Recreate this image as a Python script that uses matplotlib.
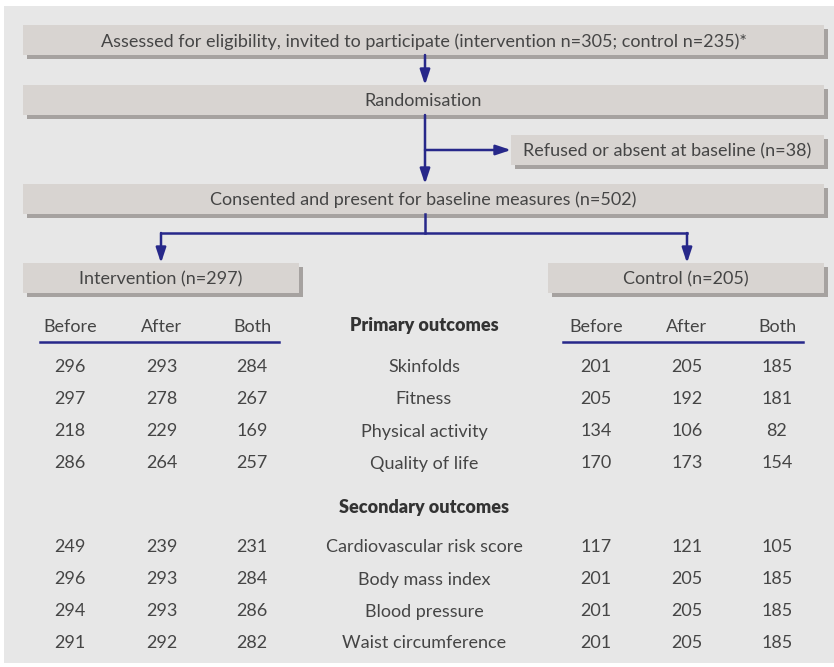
import matplotlib.pyplot as plt
from matplotlib.patches import Rectangle

plt.rcParams['font.family'] = ['Lato', 'DejaVu Sans']

# flow boxes
flow_text = [
    'Assessed for eligibility, invited to participate (intervention n=305; control n=235)*',
    'Randomisation',
    'Refused or absent at baseline (n=38)',
    'Consented and present for baseline measures (n=502)',
    'Intervention (n=297)',
    'Control (n=205)',
]
col_heads = ['Before', 'After', 'Both']

# outcome table
primary = ['Skinfolds', 'Fitness', 'Physical activity', 'Quality of life']
secondary = ['Cardiovascular risk score', 'Body mass index', 'Blood pressure',
             'Waist circumference']
int_before = [296, 297, 218, 286, 249, 296, 294, 291]
int_after = [293, 278, 229, 264, 239, 293, 293, 292]
int_both = [284, 267, 169, 257, 231, 284, 286, 282]
ctl_before = [201, 205, 134, 170, 117, 201, 201, 201]
ctl_after = [205, 192, 106, 173, 121, 205, 205, 205]
ctl_both = [185, 181, 82, 154, 105, 185, 185, 185]

panel_c = '#e7e7e7'
box_c = '#d8d4d1'
shadow_c = '#a6a2a0'
line_c = '#27288a'
text_c = '#454545'
fs = 13
bl = 6.5  # baseline offset below the row centre


def txt(x, y, s, **kw):
    ax.text(x, y + bl, s, ha='center', va='baseline', fontsize=fs,
            color=kw.pop('color', text_c), **kw)


fig = plt.figure(figsize=(8.34, 6.67), dpi=100)
ax = fig.add_axes([0, 0, 1, 1])
ax.set_xlim(0, 834)
ax.set_ylim(667, 0)
ax.axis('off')

ax.add_patch(Rectangle((4, 6), 830, 657, color=panel_c, lw=0))


def box(x0, y0, x1, y1, label):
    ax.add_patch(Rectangle((x0 + 4, y0 + 4), x1 - x0, y1 - y0, color=shadow_c, lw=0))
    ax.add_patch(Rectangle((x0, y0), x1 - x0, y1 - y0, color=box_c, lw=0))
    txt((x0 + x1) / 2, (y0 + y1) / 2, label)


def arrow(x0, y0, x1, y1):
    ax.annotate('', xy=(x1, y1), xytext=(x0, y0),
                arrowprops=dict(arrowstyle='-|>,head_length=0.9,head_width=0.3',
                                color=line_c, lw=1.8, shrinkA=0, shrinkB=0))


box(23, 25, 824, 55, flow_text[0])
box(23, 85, 824, 115, flow_text[1])
box(511, 135, 824, 165, flow_text[2])
box(23, 184, 824, 214, flow_text[3])
box(23, 263, 299, 293, flow_text[4])
box(548, 263, 824, 293, flow_text[5])

arrow(425, 55, 425, 85)
arrow(425, 115, 425, 184)
arrow(425, 150, 511, 150)
ax.plot([425, 425], [214, 233], color=line_c, lw=1.8)
ax.plot([161, 687], [233, 233], color=line_c, lw=1.8, solid_capstyle='projecting')
arrow(161, 233, 161, 263)
arrow(687, 233, 687, 263)

# table headers
int_x = [70, 162, 252]
ctl_x = [596, 687, 777]
mid_x = 424
for xs in (int_x, ctl_x):
    for x, h in zip(xs, col_heads):
        txt(x, 325, h)
ax.plot([40, 279], [342, 342], color=line_c, lw=1.8)
ax.plot([563, 803], [342, 342], color=line_c, lw=1.8)
txt(mid_x, 325, 'Primary outcomes', fontweight='heavy', color='#333333')
txt(mid_x, 506, 'Secondary outcomes', fontweight='heavy', color='#333333')

row_y = [366, 398, 430, 462, 546, 578, 610, 642]
names = primary + secondary
for i, y in enumerate(row_y):
    txt(mid_x, y, names[i])
    vals = [int_before[i], int_after[i], int_both[i], ctl_before[i], ctl_after[i], ctl_both[i]]
    for x, v in zip(int_x + ctl_x, vals):
        txt(x, y, str(v))

fig.savefig('out.png', dpi=100, facecolor='white')
